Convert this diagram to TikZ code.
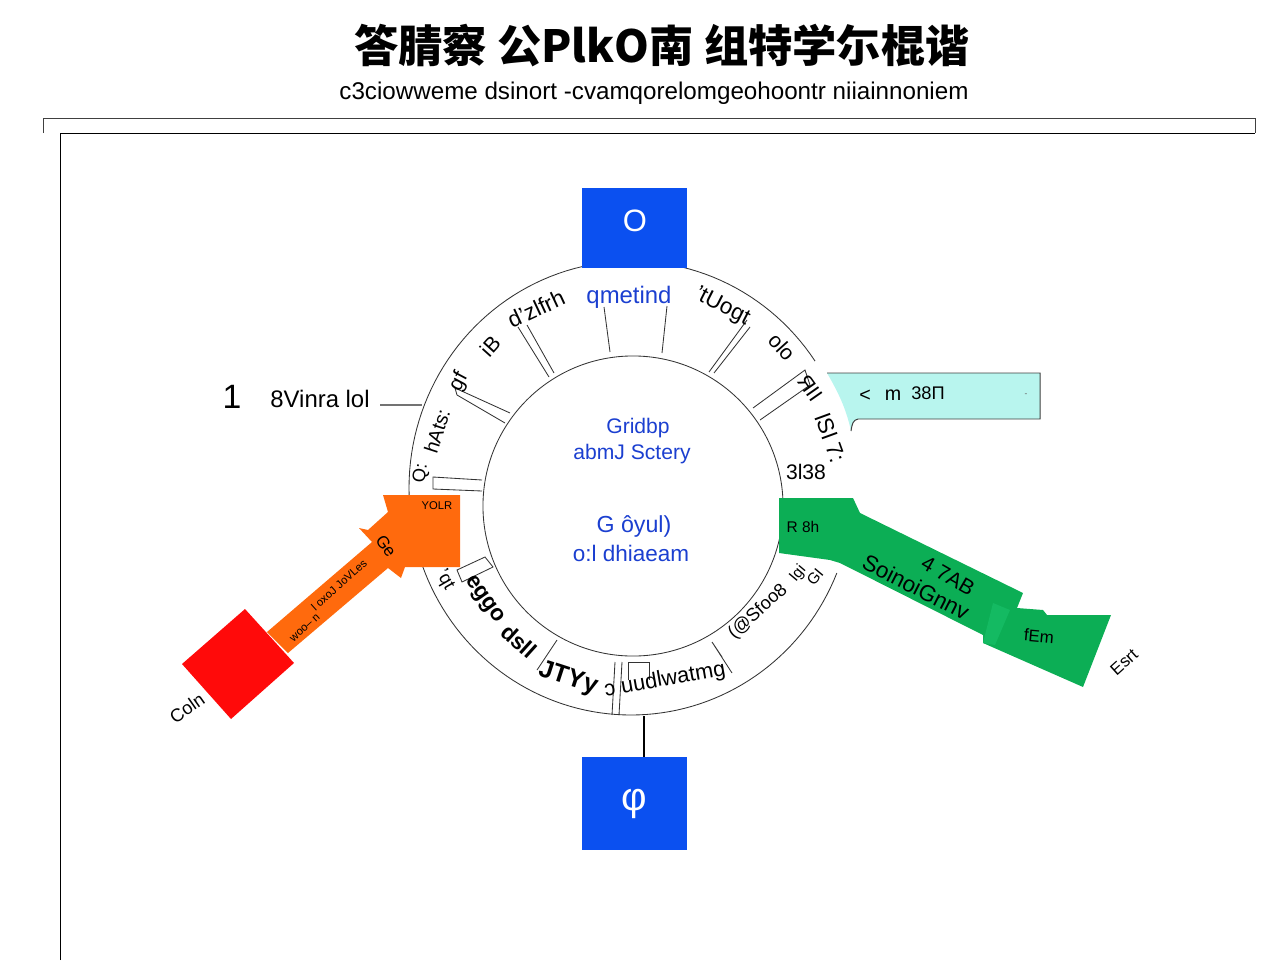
\documentclass[tikz,border=0pt]{standalone}
\usepackage{fontspec}
\setmainfont{Liberation Sans}
\newfontfamily\cjk{Noto Sans CJK SC}
\usetikzlibrary{calc,positioning,shapes}
\definecolor{boxblue}{HTML}{0B50F0}
\definecolor{txtblue}{HTML}{1B3FD0}
\definecolor{boxorange}{HTML}{FF6A0D}
\definecolor{boxred}{HTML}{FF0A0A}
\definecolor{boxgreen}{HTML}{0CAE55}
\definecolor{foldgreen}{HTML}{14BA62}
\definecolor{boxcyan}{HTML}{B8F5EE}
\begin{document}
\begin{tikzpicture}[x=0.025cm,y=-0.025cm]
      %%%%%%%%%%%%%%%%%%%%%%%%%%%%%%%%%%%%%%%%%%%%%%%%%%
      %% styles
      %%%%%%%%%%%%%%%%%%%%%%%%%%%%%%%%%%%%%%%%%%%%%%%%%%
      \tikzstyle{bnode} = [fill=boxblue, text=white, inner sep=0pt, font=\fontsize{22}{24}\selectfont]
      \tikzstyle{lnode} = [inner sep=0pt, font=\fontsize{15}{17}\selectfont]
      \tikzstyle{hnode} = [inner sep=0pt, font=\fontsize{16}{18}\bfseries\selectfont]
      \tikzstyle{snode} = [inner sep=0pt, text=txtblue, font=\fontsize{15}{17}\selectfont]
      \tikzstyle{wire} = [line width=0.6pt, draw=black!80]
      \useasboundingbox (0,0) rectangle (1280,960);
      %% heading and frame
      \node[inner sep=0pt, font=\cjk\bfseries\fontsize{31.5}{35}\selectfont] (head) at (662,46) {答腈察 公PlkO南 组特学尓棍谐};
      \node[inner sep=0pt, font=\fontsize{17.2}{20}\selectfont] (subhead) at (654,93) {c3ciowweme dsinort -cvamqorelomgeohoontr niiainnoniem};
      \draw[line width=0.6pt, draw=black!75] (43,133) -- (43,118) -- (1255,118) -- (1255,133);
      \draw[line width=0.6pt] (60,960) -- (60,133) -- (1255,133);
      %% rings
      \node[circle, draw=black!80, line width=0.6pt, minimum size=7.5cm, inner sep=0pt] (core) at (633,506) {};
      \draw[wire] plot[domain=178:326, samples=70] ({631+222*cos(\x)},{488+227*sin(\x)});
      \draw[wire] plot[domain=22:160, samples=70] ({631+222*cos(\x)},{488+227*sin(\x)});
      %% spokes
      \draw[wire] (518,327) -- (549,377) (527,325) -- (554,373);
      \draw[wire] (604,307) -- (610,352) (667,306) -- (662,353);
      \draw[wire] (747,320) -- (709,372) (750,327) -- (714,373);
      \draw[wire] (760,420) -- (810,385) -- (805,370) -- (753,408);
      \draw[wire] (510,413) -- (455,388) -- (457,395) -- (505,423);
      \draw[wire] (482,480) -- (433,477) -- (433,489) -- (482,491);
      \draw[wire] (462,582) -- (457,570) -- (485,557) -- (493,567) -- cycle;
      \draw[wire] (557,640) -- (537,670);
      \draw[wire] (615,662) -- (612,715) (622,662) -- (619,715);
      \draw[wire] (628,680) -- (628,662) -- (649,662) -- (649,680);
      \draw[wire] (712,642) -- (732,673) (712,642) -- (722,657);
      %% boxes
      \node[bnode, minimum width=2.625cm, minimum height=2cm] (top) at (634.5,228) {};
      \node[inner sep=0pt, text=white, font=\fontsize{22}{24}\selectfont] (toptxt) at (635,221) {O};
      \node[bnode, font=\fontsize{28}{30}\selectfont, minimum width=2.625cm, minimum height=2.325cm] (bottom) at (634.5,803.5) {φ};
      \coordinate (ringfoot) at (644,716);
      \draw[line width=0.8pt] (ringfoot) -- (ringfoot |- bottom.north);
      \fill[boxcyan] (827,373) -- (1040,373) -- (1040,419) -- (858,419) .. controls (853,420) and (852,424) .. (851,431) .. controls (846,408) and (838,392) .. cycle;
      \draw[line width=0.7pt, draw=black!75] (827,373) -- (1040,373) -- (1040,419) -- (858,419) .. controls (853,420) and (852,424) .. (851,431);
      \fill[boxorange] (383,495) -- (460,495) -- (460,567) -- (405,567) -- (401,578) -- (388,568) -- (288,653) -- (267,632) -- (372,542) -- (359,528) -- (368,530) -- (388,512) -- cycle;
      \fill[boxred] (245,609) -- (294,663) -- (231,719) -- (182,664) -- cycle;
      \fill[boxgreen] (779,498) -- (853,498) -- (860,513) -- (1023,593) -- (1017,608) -- (1043,610) -- (1047,615) -- (1111,615) -- (1083,687) -- (983,643) -- (983,635) -- (840,563) -- (830,560) -- (779,553) -- cycle;
      \fill[foldgreen] (993,603) -- (1010,610) -- (995,645) -- (983,643) -- cycle;
      %% inner and ring labels
      \node[snode] (c1) at (638,428) {Gridbp};
      \node[snode] (c2) at (632,454) {abmJ Sctery};
      \node[snode, font=\fontsize{16.5}{18}\selectfont] (c3) at (634,526) {G ôyul)};
      \node[snode, font=\fontsize{16}{18}\selectfont] (c4) at (631,553) {o:l dhiaeam};
      \node[snode, font=\fontsize{17}{19}\selectfont] (r1) at (629,297) {qmetind};
      \node[lnode, font=\fontsize{16}{18}\selectfont, rotate=25] (r2) at (536,309) {d'zlfrh};
      \node[lnode, rotate=48] (r3) at (490,346) {iB};
      \node[lnode, rotate=62] (r4) at (459,382) {gf};
      \node[lnode, font=\fontsize{14}{16}\selectfont, rotate=72] (r5) at (437,431) {hAts:};
      \node[lnode, font=\fontsize{13}{15}\selectfont, rotate=82] (r6) at (421,473) {Q:};
      \node[lnode, font=\fontsize{16}{18}\selectfont, rotate=-27] (r7) at (722,307) {'tUogt};
      \node[lnode, rotate=-48] (r8) at (782,347) {olo};
      \node[lnode, rotate=-55] (r9) at (810,388) {ЯII};
      \node[lnode, font=\fontsize{16}{18}\selectfont, rotate=-70] (r10) at (831,438) {lSl 7:};
      \node[lnode] (r11) at (806,472) {3l38};
      \node[lnode, font=\fontsize{13}{15}\selectfont, rotate=-60] (r12) at (445,580) {'qt};
      \node[hnode, rotate=-55] (r13) at (484,600) {eggo};
      \node[hnode, rotate=-42] (r14) at (519,641) {dsll};
      \node[hnode, font=\fontsize{18}{20}\bfseries\selectfont, rotate=-18] (r15) at (568,679) {JTYy};
      \node[lnode, font=\fontsize{15.5}{17}\selectfont, rotate=10] (r16) at (665,680) {ɔ uudlwatmg};
      \node[hnode, font=\fontsize{13}{15}\selectfont, rotate=42] (r17) at (758,612) {(@Sfoo8};
      \node[lnode, font=\fontsize{11}{13}\selectfont, rotate=50] (r18) at (798,574) {Igi};
      \node[lnode, font=\fontsize{11}{13}\selectfont, rotate=50] (r19) at (815,577) {GI};
      %% left side labels
      \node[inner sep=0pt, font=\fontsize{24}{26}\selectfont] (side) at (232,397) {1};
      \node[lnode, font=\fontsize{17}{19}\selectfont] (sidetxt) at (320,399) {8Vinra lol};
      \coordinate (sideend) at (422,405);
      \draw[line width=1pt, draw=black!55] (380,405) -- (sideend);
      \node[lnode, font=\fontsize{8}{10}\selectfont] (o1) at (437,506) {YOLR};
      \node[lnode, font=\fontsize{12}{14}\selectfont, rotate=-55] (o2) at (386,546) {Ge};
      \node[lnode, font=\fontsize{8}{10}\selectfont, rotate=42] (o3) at (339,585) {l oxoJ JoVLes};
      \node[lnode, font=\fontsize{8}{10}\selectfont, rotate=42] (o4) at (305,628) {woo-- n};
      \node[lnode, font=\fontsize{13}{15}\selectfont, rotate=35] (o5) at (187,708) {Coln};
      %% right side labels
      \node[lnode, font=\fontsize{14}{16}\selectfont] (y1) at (865,396) {<};
      \node[lnode, font=\fontsize{14}{16}\selectfont] (y2) at (893,395) {m};
      \node[lnode, font=\fontsize{13}{15}\selectfont] (y3) at (928,393) {38П};
      \node[lnode, font=\fontsize{6}{8}\selectfont, text=black!60] (y4) at (1026,395) {-};
      \node[lnode, font=\fontsize{11}{13}\selectfont] (g1) at (803,527) {R 8h};
      \node[lnode, font=\fontsize{15}{17}\selectfont, rotate=-30] (g2) at (948,576) {4 7AB};
      \node[lnode, font=\fontsize{16}{18}\selectfont, rotate=-27] (g3) at (916,587) {SoinoiGnnv};
      \node[lnode, font=\fontsize{12}{14}\selectfont, rotate=-5] (g4) at (1039,636) {fEm};
      \node[lnode, font=\fontsize{12}{14}\selectfont, rotate=42] (g5) at (1124,662) {Esrt};
\end{tikzpicture}
\end{document}
